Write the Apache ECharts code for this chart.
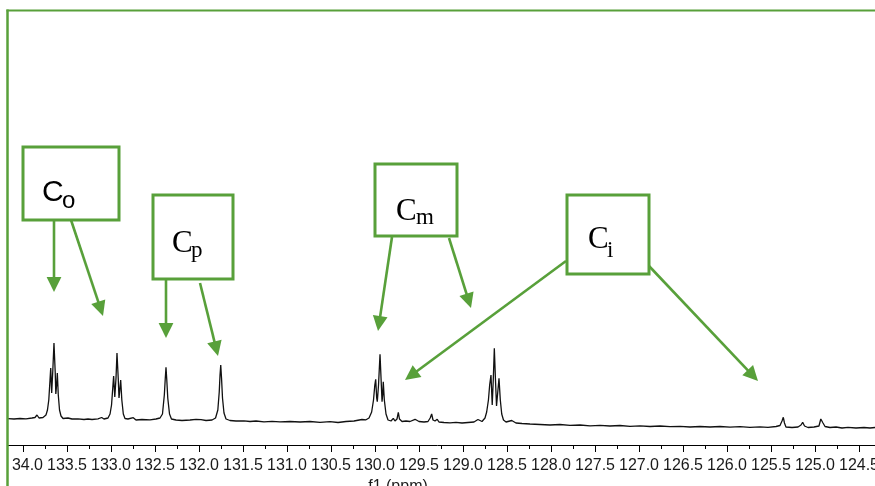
<!DOCTYPE html>
<html><head><meta charset="utf-8">
<script src="https://cdn.jsdelivr.net/npm/echarts@6/dist/echarts.min.js"></script>
<style>html,body{margin:0;padding:0;background:#fff}#c{width:875px;height:486px}</style>
</head><body><div id="c"></div>
<script>
// Chemical shift (ppm) and intensity (arbitrary units)
const ppm = [
134.170,134.102,134.034,133.966,133.898,133.864,133.841,133.818,133.773,133.739,
133.722,133.707,133.693,133.685,133.674,133.661,133.648,133.634,133.627,133.618,
133.610,133.599,133.585,133.568,133.545,133.489,133.443,133.375,133.307,133.261,
133.216,133.148,133.106,133.080,133.034,133.011,132.994,132.980,132.970,132.957,
132.943,132.932,132.918,132.909,132.900,132.890,132.877,132.860,132.841,132.807,
132.747,132.716,132.648,132.557,132.489,132.443,132.415,132.394,132.383,132.375,
132.366,132.355,132.335,132.313,132.261,132.193,132.102,132.034,131.977,131.920,
131.852,131.812,131.786,131.770,131.761,131.753,131.744,131.733,131.716,131.693,
131.648,131.580,131.489,131.420,131.352,131.261,131.170,131.080,130.966,130.852,
130.739,130.625,130.511,130.420,130.330,130.239,130.148,130.102,130.068,130.038,
130.017,130.002,129.992,129.981,129.974,129.960,129.943,129.928,129.920,129.913,
129.906,129.894,129.875,129.852,129.818,129.792,129.773,129.750,129.735,129.722,
129.693,129.648,129.602,129.545,129.500,129.443,129.398,129.373,129.356,129.341,
129.318,129.293,129.273,129.216,129.148,129.080,129.011,128.943,128.875,128.830,
128.784,128.750,128.731,128.711,128.697,128.682,128.668,128.656,128.644,128.631,
128.619,128.605,128.591,128.576,128.560,128.540,128.511,128.446,128.398,128.330,
128.239,128.125,128.011,127.898,127.784,127.670,127.557,127.443,127.330,127.216,
127.102,126.989,126.875,126.761,126.648,126.534,126.420,126.307,126.193,126.080,
125.966,125.852,125.739,125.625,125.534,125.443,125.398,125.375,125.360,125.347,
125.330,125.261,125.193,125.159,125.140,125.119,125.080,125.011,124.955,124.934,
124.924,124.909,124.886,124.830,124.761,124.693,124.625,124.534,124.443,124.375,
124.318];
const intensity = [
26.3,26.0,26.5,26.2,27.0,27.5,30.0,27.0,27.5,30.0,
35,45,65,77,52,75,102,73,51,60,
72,50,35,29,26.5,27,26,26.2,25.5,26,
25.5,26.2,27.5,26,27,31,40,57,69,48,
67,92,67,47,55,65,45,31,26.5,26,
27.3,25,25.5,25.2,26,27,31,50,67,77.7,
65,47,31,26,25,24.5,25,25.7,25.4,24.5,
25,27,35,53,70,80,67,47,32,26,
24.5,24,24.2,23.5,24,23.2,23.7,23.2,23.5,23,
23.5,22.7,23.3,22.5,23.5,24,25.5,25.2,27,33,
45,60,65.7,47,43.3,60,90.7,60,43.3,50,
63.3,45,31,25,24,26.7,24,26,32.7,26,
23.5,24,23.5,25.7,23.5,23,23.5,27,31,25,
24,25.7,23,22.5,22.2,22.7,22,22.5,23,25.5,
23.5,27,33,45,60,70,40,65,96.7,65,
39,53,66.7,45,31,25,23,24.5,22,21.5,
21,20.5,20,20.5,19.7,20,19.2,19.7,19,19.5,
18.7,19.2,18.5,19,18.3,18.7,18,18.5,18,18.5,
17.8,18.3,17.7,18.2,17.7,18.5,19.5,24,27.7,22,
18,17.5,18,20,22.7,19,17.5,18,19,26,
26.7,22,18.5,17.5,18,17,17.7,17,17.5,17,
17.5];
const axisMin = 124.0, axisMax = 134.5, tickStep = 0.5;
const axisTitle = 'f1 (ppm)';
const annMain = ['C', 'C', 'C', 'C'];
const annSub = ['o', 'p', 'm', 'i'];

const G = '#58a03a';
function arrow(x1, y1, x2, y2) {
  const L = 15, W = 7.4;
  const dx = x2 - x1, dy = y2 - y1, len = Math.hypot(dx, dy);
  const ux = dx / len, uy = dy / len;
  const bx = x2 - ux * L, by = y2 - uy * L;
  return [
    {type: 'line', z: 50, shape: {x1: x1, y1: y1, x2: bx + ux * 2, y2: by + uy * 2}, style: {stroke: G, lineWidth: 2.6}},
    {type: 'polygon', z: 50, shape: {points: [[x2, y2], [bx - uy * W, by + ux * W], [bx + uy * W, by - ux * W]]}, style: {fill: G}}
  ];
}
function box(x, y, w, h) {
  return {type: 'rect', z: 50, shape: {x: x, y: y, width: w, height: h}, style: {fill: '#fff', stroke: G, lineWidth: 3}};
}
function txt(x, y, t, font, size) {
  return {type: 'text', z: 51, x: x, y: y, style: {text: t, fontFamily: font, fontSize: size, fill: '#000', align: 'left', verticalAlign: 'middle'}};
}
const SERIF = '"Liberation Serif", "DejaVu Serif", serif';
const SANS = '"Liberation Sans", Arial, sans-serif';

const graphics = [].concat(
  [{type: 'rect', z: 100, shape: {x: 0, y: 0, width: 7, height: 486}, style: {fill: '#fff'}},
   {type: 'rect', z: 100, shape: {x: 0, y: 452, width: 11.5, height: 34}, style: {fill: '#fff'}},
   {type: 'line', z: 101, shape: {x1: 7.5, y1: 9.5, x2: 7.5, y2: 486}, style: {stroke: G, lineWidth: 2.5}},
   {type: 'line', z: 101, shape: {x1: 6.5, y1: 10.5, x2: 875, y2: 10.5}, style: {stroke: G, lineWidth: 2}}],
  arrow(54, 220, 54, 292), arrow(71, 220, 103, 316),
  arrow(166, 280, 166, 338), arrow(200, 283, 218, 356),
  arrow(392, 237, 378, 331), arrow(449, 238, 471, 308),
  arrow(566, 261, 405, 380), arrow(649, 266, 758, 381),
  [box(23, 147, 96, 73), box(153, 195, 80, 84), box(375, 164, 82, 72), box(567, 195, 82, 79)],
  [txt(42, 193, annMain[0], SANS, 30), txt(62, 201, annSub[0], SANS, 24),
   txt(172, 244, annMain[1], SERIF, 31), txt(191, 251, annSub[1], SERIF, 23),
   txt(396, 212, annMain[2], SERIF, 31), txt(416, 218, annSub[2], SERIF, 23),
   txt(588, 240, annMain[3], SERIF, 31), txt(607, 251, annSub[3], SERIF, 23)]
);

const chart = echarts.init(document.getElementById('c'), null, {renderer: 'canvas'});
chart.setOption({
  animation: false,
  backgroundColor: '#fff',
  grid: {left: -21, right: -28, top: 10, bottom: 41, containLabel: false, outerBoundsMode: 'none'},
  xAxis: {
    type: 'value', inverse: true, min: axisMin, max: axisMax, interval: tickStep,
    axisLine: {show: true, lineStyle: {color: '#000', width: 1}},
    axisTick: {show: true, length: 7, lineStyle: {color: '#000'}},
    minorTick: {show: true, splitNumber: 2, length: 4, lineStyle: {color: '#000'}},
    splitLine: {show: false},
    axisLabel: {formatter: v => v.toFixed(1), fontSize: 16, fontFamily: SANS, color: '#1a1a1a', margin: 13},
    name: axisTitle, nameLocation: 'middle', nameGap: 29,
    nameTextStyle: {fontSize: 16, fontFamily: SANS, color: '#1a1a1a', padding: [0, 86, 0, 0]}
  },
  yAxis: {type: 'value', min: 0, max: 435, show: false},
  series: [{
    type: 'line', data: ppm.map((p, i) => [p, intensity[i]]),
    showSymbol: false, symbol: 'none', silent: true,
    lineStyle: {color: '#111', width: 1.3}
  }],
  graphic: graphics
});
</script>
</body></html>
